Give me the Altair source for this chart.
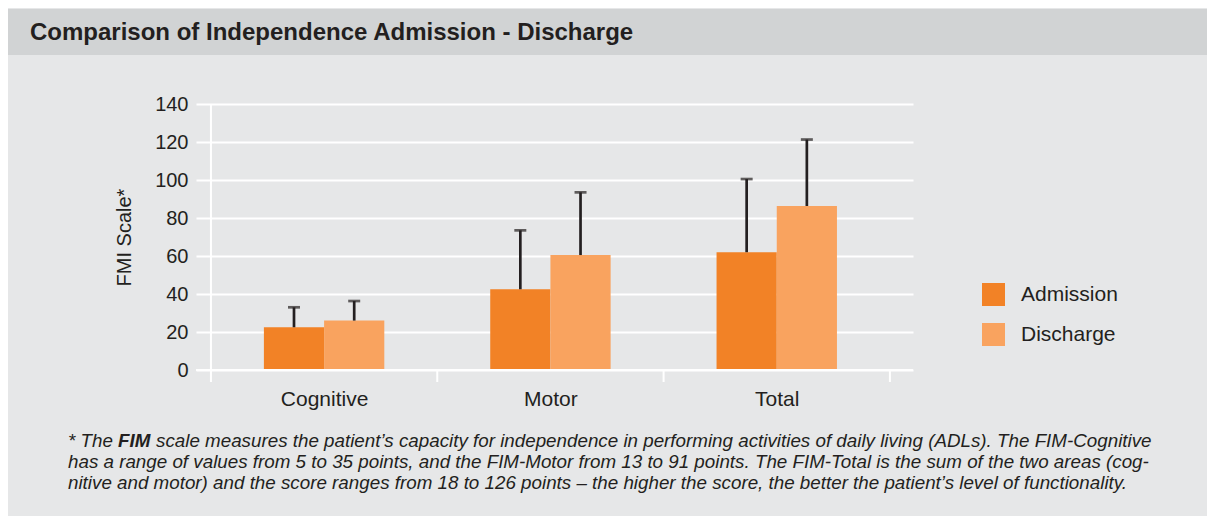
import json
import altair as alt
import pandas as pd

# ---------------- data ----------------
categories = ["Cognitive", "Motor", "Total"]
series = ["Admission", "Discharge"]
admission = [22.5, 42.5, 62.0]
discharge = [26.0, 60.5, 86.3]
admission_sd = [10.5, 31.0, 38.5]
discharge_sd = [10.3, 33.0, 35.0]
y_ticks = [0, 20, 40, 60, 80, 100, 120, 140]
colors = ["#F28226", "#F9A35F"]

title_text = "Comparison of Independence Admission - Discharge"
y_title = "FMI Scale*"
foot_lead = "* The"
foot_bold = "FIM"
foot_rest1 = "scale measures the patient’s capacity for independence in performing activities of daily living (ADLs). The FIM-Cognitive"
foot_line2 = "has a range of values from 5 to 35 points, and the FIM-Motor from 13 to 91 points. The FIM-Total is the sum of the two areas (cog-"
foot_line3 = "nitive and motor) and the score ranges from 18 to 126 points – the higher the score, the better the patient’s level of functionality."

rows = []
for i, c in enumerate(categories):
    for s, vals, sds in ((series[0], admission, admission_sd), (series[1], discharge, discharge_sd)):
        rows.append({"cat": c, "idx": i, "series": s, "value": vals[i], "sd": sds[i]})
df = pd.DataFrame(rows)

# ---------------- layout ----------------
W, H = 717, 266
PAD = {"left": 188, "top": 96, "right": 294, "bottom": 146}
FONT = "Liberation Sans"
DARK = "#231F20"

xscale = alt.Scale(domain=[-0.066, 3.102], nice=False, zero=False)
yscale = alt.Scale(domain=[0, 140], nice=False)

label_expr = json.dumps(categories) + "[floor(datum.value)]"
x_axis = alt.Axis(values=[0.5, 1.5, 2.5], labelExpr=label_expr, ticks=False, tickSize=0,
                  domain=False, grid=False, labelFontSize=21, labelFont=FONT, labelColor=DARK,
                  labelPadding=35, labelBaseline="alphabetic", labelOverlap=False, title=None)
y_axis = alt.Axis(values=y_ticks, tickCount=len(y_ticks), grid=True, gridColor="white",
                  gridWidth=2, gridOpacity=1, domain=False, ticks=False, labelFontSize=20,
                  labelFont=FONT, labelColor=DARK, labelPadding=8, labelOverlap=False,
                  labelFlush=False, title=y_title, titleFontSize=20, titleFont=FONT,
                  titleFontWeight="normal", titleColor=DARK, titleAngle=270, titleX=-66,
                  titleY=133, titleAlign="center", titleBaseline="alphabetic")


def X(field):
    return alt.X(field, scale=xscale, axis=x_axis)


def Y(field):
    return alt.Y(field, scale=yscale, axis=y_axis)


base = alt.Chart(df).transform_calculate(
    x0="datum.idx + (datum.series == 'Admission' ? 0.234 : 0.5)",
    x1="datum.x0 + 0.266",
    xc="datum.x0 + 0.133",
    top="datum.value + datum.sd",
    zero="0",
)

bars = base.mark_bar().encode(
    x=X("x0:Q"),
    x2="x1:Q",
    y=Y("value:Q"),
    y2="zero:Q",
    color=alt.Color("series:N", scale=alt.Scale(domain=series, range=colors),
                    legend=alt.Legend(orient="none", legendX=786, legendY=179, title=None,
                                      symbolType="square", symbolSize=529, symbolStrokeWidth=0,
                                      labelFontSize=21, labelFont=FONT, labelColor=DARK,
                                      rowPadding=17, labelOffset=16, padding=0)),
)

whiskers = base.mark_rule(color=DARK, strokeWidth=2.7).encode(
    x=X("xc:Q"), y=Y("value:Q"), y2="top:Q")
caps = base.mark_tick(color=DARK, thickness=2.7, size=12, orient="horizontal").encode(
    x=X("xc:Q"), y=Y("top:Q"))

zero_line = alt.Chart(pd.DataFrame({"v": [0]})).mark_rule(color="white", strokeWidth=2).encode(
    y=Y("v:Q"), x=alt.value(0), x2=alt.value(W))

frame_line = alt.Chart(pd.DataFrame({"b": [0]})).mark_rule(color="white", strokeWidth=2).encode(
    x=X("b:Q"), y=alt.value(0), y2=alt.value(H + 12))
frame_ticks = alt.Chart(pd.DataFrame({"b": list(range(1, len(categories) + 1))})).mark_rule(
    color="white", strokeWidth=2).encode(
    x=X("b:Q"), y=alt.value(H), y2=alt.value(H + 12))

one = pd.DataFrame({"k": [0]})
header = alt.Chart(one).mark_rect(color="#D1D3D4").encode(
    x=alt.value(-PAD["left"]), x2=alt.value(W + PAD["right"]), y=alt.value(-95), y2=alt.value(-49))


def text_layer(txt, x, y, size, weight="normal", style="normal"):
    return alt.Chart(pd.DataFrame({"t": [txt]})).mark_text(
        align="left", baseline="alphabetic", font=FONT, fontSize=size, fontWeight=weight,
        fontStyle=style, color=DARK).encode(text="t:N", x=alt.value(x), y=alt.value(y))


title = text_layer(title_text, -166, -64, 24, weight="bold")
fs = 18.8
f1 = text_layer(foot_lead, -128, 343, fs, style="italic")
f2 = text_layer(foot_bold, -78, 343, fs, weight="bold", style="italic")
f3 = text_layer(foot_rest1, -40, 343, fs, style="italic")
f4 = text_layer(foot_line2, -128, 364, fs, style="italic")
f5 = text_layer(foot_line3, -128, 385, fs, style="italic")

chart = alt.layer(
    bars, header, zero_line, frame_line, frame_ticks, whiskers, caps, title, f1, f2, f3, f4, f5
).properties(
    width=W, height=H, padding=PAD, autosize=alt.AutoSizeParams(type="none"),
    background="#E6E7E8",
).configure_view(stroke=None)

chart.save("out.html", embed_options={"renderer": "svg", "actions": False})
